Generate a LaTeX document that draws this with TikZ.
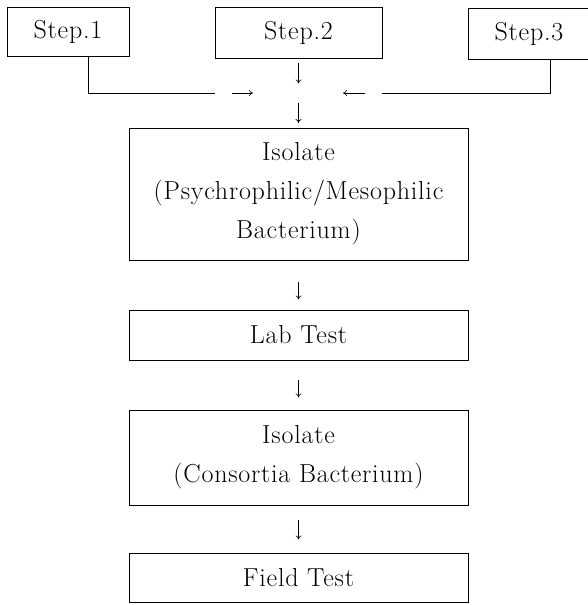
\documentclass[tikz,border=0pt]{standalone}
\usepackage{fontspec}
\setmainfont{Latin Modern Roman}[LetterSpace=3]
\usetikzlibrary{arrows.meta}
\begin{document}
\begin{tikzpicture}[x=1pt,y=-1pt,
  box/.style={draw=black, line width=0.9pt, inner sep=0pt, align=center,
    font=\fontsize{26pt}{39pt}\selectfont},
  conn/.style={draw=black, line width=0.9pt},
  arr/.style={draw=black, line width=0.6pt, -{To[length=4pt,width=6pt]}}]
\useasboundingbox (0,0) rectangle (587,605);
% step boxes
\node[box, minimum width=122pt, minimum height=49pt] (s1) at (68,31.5) {Step.1};
\node[box, minimum width=167pt, minimum height=51pt] (s2) at (298.5,32.5) {Step.2};
\node[box, minimum width=122pt, minimum height=51pt] (s3) at (529,33.5) {Step.3};
% main boxes
\node[box, minimum width=339pt, minimum height=132pt] (iso1) at (298.5,194) {Isolate\\(Psychrophilic/Mesophilic\\Bacterium)};
\node[box, minimum width=339pt, minimum height=50pt] (lab) at (298.5,335) {Lab Test};
\node[box, minimum width=339pt, minimum height=95pt] (iso2) at (298.5,457.5) {Isolate\\(Consortia Bacterium)};
\node[box, minimum width=339pt, minimum height=49pt] (field) at (298.5,577.5) {Field Test};
% connector points
\coordinate (k1) at (88,93);
\coordinate (e1) at (215,93);
\coordinate (k3) at (550,93);
\coordinate (e3) at (382,93);
\coordinate (ra) at (232,93);
\coordinate (rb) at (253,93);
\coordinate (la) at (365,93);
\coordinate (lb) at (343,93);
\coordinate (ca) at (298.5,103);
\coordinate (cb) at (298.5,123);
% lines from steps
\draw[conn] (s1.south -| k1) |- (e1);
\draw[conn] (s3.south -| k3) |- (e3);
% small arrows
\draw[arr] (ra) -- (rb);
\draw[arr] (la) -- (lb);
\draw[arr] ([yshift=-5pt]s2.south) -- ([yshift=-25pt]s2.south);
\draw[arr] (ca) -- (cb);
\draw[arr] ([yshift=-22pt]iso1.south) -- ([yshift=-39pt]iso1.south);
\draw[arr] ([yshift=-20pt]lab.south) -- ([yshift=-37pt]lab.south);
\draw[arr] ([yshift=-15pt]iso2.south) -- ([yshift=-34pt]iso2.south);
\end{tikzpicture}
\end{document}
